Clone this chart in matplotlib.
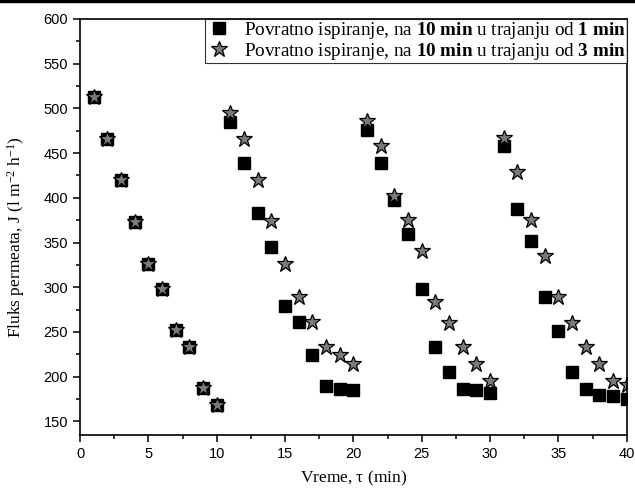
import numpy as np
import matplotlib
matplotlib.use("Agg")
import matplotlib.pyplot as plt
from matplotlib.lines import Line2D
from matplotlib.ticker import MultipleLocator

plt.rcParams.update({
    "font.family": "Liberation Sans",
    "mathtext.fontset": "custom",
    "mathtext.rm": "Liberation Serif",
    "mathtext.it": "Liberation Serif:italic",
    "mathtext.bf": "Liberation Serif:bold",
})

# time points (min) and permeate flux for the two backwash regimes
t = np.arange(1, 41)
flux_1min = [513, 466, 420, 373, 326, 298, 252, 233, 187, 168,
             485, 439, 383, 345, 279, 261, 224, 190, 186, 185,
             476, 439, 397, 360, 298, 233, 205, 186, 185, 182,
             458, 388, 352, 289, 251, 205, 186, 180, 178, 175]
flux_3min = [513, 466, 420, 373, 326, 298, 252, 233, 187, 168,
             495, 466, 420, 374, 326, 289, 261, 233, 224, 214,
             486, 458, 402, 375, 341, 284, 260, 233, 214, 195,
             467, 429, 375, 335, 289, 260, 233, 214, 195, 191]

lab_1 = r"Povratno ispiranje, na $\mathbf{10\ min}$ u trajanju od $\mathbf{1\ min}$"
lab_3 = r"Povratno ispiranje, na $\mathbf{10\ min}$ u trajanju od $\mathbf{3\ min}$"

fig = plt.figure(figsize=(6.35, 4.97), dpi=100)
ax = fig.add_axes([0.126, 0.125, 0.861, 0.837])

ax.plot(t, flux_1min, ls="none", marker="s", ms=8, mfc="black", mec="black",
        label=lab_1)
ax.plot(t, flux_3min, ls="none", marker="*", ms=12, mfc="#7a7a7a", mec="black",
        mew=0.9, label=lab_3)

ax.set_xlim(0, 40)
ax.set_ylim(135, 600)
ax.xaxis.set_major_locator(MultipleLocator(5))
ax.xaxis.set_minor_locator(MultipleLocator(2.5))
ax.yaxis.set_major_locator(MultipleLocator(50))
ax.yaxis.set_minor_locator(MultipleLocator(25))
ax.tick_params(which="both", direction="out", top=False, right=False,
               labelsize=10.5, width=1.1)
ax.tick_params(which="major", length=5)
ax.tick_params(which="minor", length=3)
for s in ax.spines.values():
    s.set_linewidth(1.2)

serif = "Liberation Serif"
ax.set_xlabel(r"Vreme, $\mathrm{\tau}$ (min)", family=serif, fontsize=12.5,
              labelpad=6)
ax.set_ylabel(r"Fluks permeata, J (l m$^{-2}$ h$^{-1}$)", family=serif,
              fontsize=12.5)
ax.yaxis.set_label_coords(-0.097, 0.475)

leg = ax.legend(loc="upper right", prop={"family": serif, "size": 13.8},
                frameon=True, fancybox=False, edgecolor="black",
                borderaxespad=0.0, borderpad=0.05, labelspacing=0.0,
                handletextpad=0.6, handlelength=1.4)
leg.get_frame().set_linewidth(0.8)

# heavy rule across the top of the page
fig.add_artist(Line2D([0, 1], [0.997, 0.997], transform=fig.transFigure,
                      color="black", lw=3.2))

fig.savefig("out.png", dpi=100)
